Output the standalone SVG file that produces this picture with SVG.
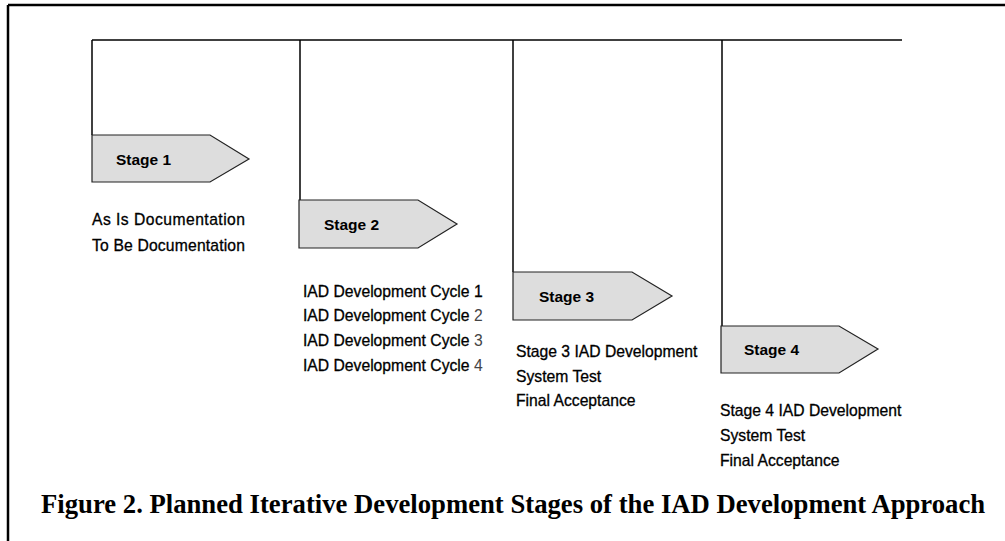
<svg xmlns="http://www.w3.org/2000/svg" width="1005" height="541" viewBox="0 0 1005 541">
  <style>
    .frame { stroke: #000; stroke-width: 2.5; fill: none; }
    .wire { stroke: #000; stroke-width: 1.5; fill: none; }
    .stage { fill: #dddddd; stroke: #222; stroke-width: 1.2; }
    .label { font-family: "Liberation Sans", Arial, sans-serif; font-size: 15.5px; font-weight: bold; fill: #000; }
    .item { font-family: "Liberation Sans", Arial, sans-serif; font-size: 15.7px; fill: #000; stroke: #000; stroke-width: 0.3; }
    .num { fill: #444; stroke: none; }
    .caption { font-family: "Liberation Serif", "Times New Roman", serif; font-size: 26.7px; font-weight: bold; fill: #000; }
  </style>
  <rect width="1005" height="541" fill="#fff"/>

  <!-- page frame (left and top edges) -->
  <line class="frame" x1="8" y1="5" x2="8" y2="541"/>
  <line class="frame" x1="8" y1="5" x2="1005" y2="5"/>

  <!-- timeline bus and drops to each stage -->
  <g id="connectors">
    <line class="wire" x1="92" y1="40" x2="902" y2="40"/>
    <line class="wire" x1="92" y1="40" x2="92" y2="135"/>
    <line class="wire" x1="300" y1="40" x2="300" y2="200"/>
    <line class="wire" x1="513" y1="40" x2="513" y2="272"/>
    <line class="wire" x1="722" y1="40" x2="722" y2="326" stroke-width="2"/>
  </g>

  <g id="stage1">
    <polygon class="stage" points="92,135 210,135 249,159 210,182 92,182"/>
    <text class="label" x="116" y="165">Stage 1</text>
    <text class="item" x="92" y="225" textLength="153" lengthAdjust="spacing">As Is Documentation</text>
    <text class="item" x="92" y="251" textLength="153" lengthAdjust="spacing">To Be Documentation</text>
  </g>

  <g id="stage2">
    <polygon class="stage" points="299,200 418,200 457,224 418,248 299,248"/>
    <text class="label" x="324" y="230">Stage 2</text>
    <text class="item" x="303" y="297">IAD Development Cycle 1</text>
    <text class="item" x="303" y="321">IAD Development Cycle <tspan class="num">2</tspan></text>
    <text class="item" x="303" y="346">IAD Development Cycle <tspan class="num">3</tspan></text>
    <text class="item" x="303" y="371">IAD Development Cycle <tspan class="num">4</tspan></text>
  </g>

  <g id="stage3">
    <polygon class="stage" points="513,272 632,272 672,296 632,320 513,320"/>
    <text class="label" x="539" y="302">Stage 3</text>
    <text class="item" x="516" y="357">Stage 3 IAD Development</text>
    <text class="item" x="516" y="382">System Test</text>
    <text class="item" x="516" y="406">Final Acceptance</text>
  </g>

  <g id="stage4">
    <polygon class="stage" points="721,326 839,326 878,349 839,373 721,373"/>
    <text class="label" x="744" y="355">Stage 4</text>
    <text class="item" x="720" y="416">Stage 4 IAD Development</text>
    <text class="item" x="720" y="441">System Test</text>
    <text class="item" x="720" y="466">Final Acceptance</text>
  </g>

  <text class="caption" x="41" y="513">Figure 2. Planned Iterative Development Stages of the IAD Development Approach</text>
</svg>
